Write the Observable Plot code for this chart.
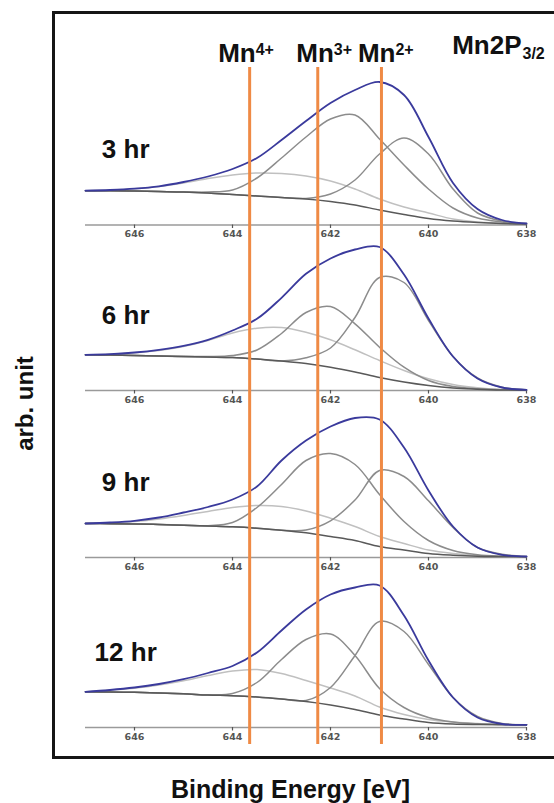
<!DOCTYPE html>
<html>
<head>
<meta charset="utf-8">
<script src="https://cdn.jsdelivr.net/npm/d3@7"></script>
<script src="https://cdn.jsdelivr.net/npm/@observablehq/plot@0.6"></script>
<style>
  html, body { margin: 0; padding: 0; background: #fff; }
  #chart { width: 554px; height: 803px; overflow: hidden; }
</style>
</head>
<body>
<div id="chart"></div>
<script>
// ---------------- DATA ----------------
// Binding energy grid (eV), read at every 0.5 eV
const energies = [647, 646.5, 646, 645.5, 645, 644.5, 644, 643.5, 643, 642.5, 642, 641.5, 641, 640.5, 640, 639.5, 639, 638.5, 638];
const panelLabels = ["3 hr", "6 hr", "9 hr", "12 hr"];
const tickValues = [646, 644, 642, 640, 638];

// Mn 2p3/2 components (arb. units; components drawn on top of background)
// 3 hr
const bg_3h  = [34.3, 34.2, 34.0, 33.5, 33.0, 32.0, 30.5, 29.0, 27.5, 26.0, 23.5, 20.0, 15.0, 10.5, 6.5, 4.0, 2.5, 1.5, 1.0];
const mn4_3h = [34.3, 35.0, 36.3, 38.5, 42.0, 46.5, 50.0, 52.0, 51.5, 49.0, 44.0, 36.0, 26.0, 18.0, 12.0, 6.0, 3.0, 1.8, 1.0];
const mn3_3h = [34.3, 34.2, 34.0, 33.5, 33.0, 33.0, 35.0, 47.0, 67.0, 88.0, 106.0, 110.0, 86.0, 60.0, 36.0, 17.0, 7.0, 3.0, 1.0];
const mn2_3h = [34.3, 34.2, 34.0, 33.5, 33.0, 32.0, 30.5, 29.0, 27.5, 26.5, 31.0, 45.0, 71.0, 87.0, 71.0, 36.0, 12.0, 4.0, 1.5];
const env_3h = [34.3, 35.0, 36.3, 38.7, 43.0, 48.5, 56.0, 67.0, 85.0, 104.0, 122.0, 135.0, 143.0, 130.0, 88.0, 42.0, 16.0, 5.0, 1.5];
// 6 hr
const bg_6h  = [35.7, 35.5, 35.0, 34.5, 34.0, 33.5, 33.0, 31.5, 29.5, 27.0, 23.3, 18.5, 13.0, 8.5, 5.0, 2.5, 1.3, 0.5, 0.3];
const mn4_6h = [35.7, 36.3, 37.7, 40.0, 44.0, 50.0, 57.5, 62.3, 63.0, 58.3, 50.7, 40.7, 30.0, 20.0, 11.7, 6.0, 2.7, 1.0, 0.3];
const mn3_6h = [35.7, 35.5, 35.0, 34.5, 34.0, 34.0, 35.0, 40.5, 57.0, 78.0, 84.0, 66.7, 43.3, 23.3, 10.0, 4.0, 1.7, 0.7, 0.3];
const mn2_6h = [35.7, 35.5, 35.0, 34.5, 34.0, 33.5, 33.0, 31.5, 29.5, 32.7, 42.5, 73.0, 113.0, 108.0, 70.0, 34.0, 12.5, 3.3, 0.7];
const env_6h = [35.7, 36.3, 38.0, 40.7, 44.7, 50.7, 60.0, 71.7, 92.7, 116.7, 132.0, 141.0, 143.5, 116.0, 72.0, 34.0, 12.0, 3.0, 0.7];
// 9 hr
const bg_9h  = [34.0, 33.8, 33.5, 33.0, 32.3, 31.5, 30.7, 29.3, 27.3, 24.7, 21.0, 17.0, 11.0, 7.5, 4.0, 2.3, 1.3, 1.0, 0.7];
const mn4_9h = [34.0, 34.5, 36.0, 38.5, 42.0, 46.0, 50.0, 52.0, 51.0, 46.5, 39.3, 31.0, 21.0, 14.0, 7.5, 4.0, 2.0, 1.2, 0.7];
const mn3_9h = [34.0, 33.8, 33.5, 33.0, 32.3, 31.8, 35.0, 50.0, 73.0, 97.0, 104.0, 93.0, 63.0, 36.0, 17.0, 7.0, 2.7, 1.2, 0.7];
const mn2_9h = [34.0, 33.8, 33.5, 33.0, 32.3, 31.5, 30.7, 29.3, 27.3, 27.5, 36.7, 57.5, 87.0, 81.0, 56.7, 30.0, 10.0, 3.3, 1.0];
const env_9h = [34.0, 35.0, 36.7, 40.0, 45.0, 50.5, 58.0, 71.0, 97.0, 117.0, 131.0, 139.5, 138.0, 110.0, 67.0, 31.0, 10.0, 2.7, 1.0];
// 12 hr
const bg_12h  = [35.7, 35.5, 35.2, 34.5, 33.7, 32.5, 31.8, 30.5, 28.5, 26.0, 22.5, 18.0, 12.5, 8.5, 5.0, 3.5, 3.0, 2.8, 2.7];
const mn4_12h = [35.7, 37.5, 39.3, 42.5, 46.7, 52.0, 56.5, 58.0, 54.0, 47.0, 39.5, 31.5, 20.5, 13.0, 8.0, 5.5, 4.0, 3.2, 2.7];
const mn3_12h = [35.7, 35.5, 35.2, 34.5, 33.7, 32.8, 34.0, 45.0, 68.0, 88.0, 93.5, 72.0, 39.0, 20.0, 10.0, 5.5, 3.7, 3.0, 2.7];
const mn2_12h = [35.7, 35.5, 35.2, 34.5, 33.7, 32.5, 31.8, 30.5, 28.5, 27.0, 40.0, 72.0, 106.0, 96.0, 63.0, 30.0, 11.0, 4.0, 2.7];
const env_12h = [35.7, 37.5, 40.0, 43.5, 48.3, 54.5, 61.5, 75.0, 97.0, 118.0, 133.0, 140.0, 142.0, 112.0, 67.0, 30.0, 10.0, 3.5, 2.7];

// Oxidation-state reference energies (eV)
const ionEnergies = [643.65, 642.26, 640.96];
const ionNames = ["Mn", "Mn", "Mn"];
const ionCharges = ["4+", "3+", "2+"];

// ---------------- LAYOUT / STYLE ----------------
const panelSeries = [
  {bg: bg_3h,  mn4: mn4_3h,  mn3: mn3_3h,  mn2: mn2_3h,  env: env_3h},
  {bg: bg_6h,  mn4: mn4_6h,  mn3: mn3_6h,  mn2: mn2_6h,  env: env_6h},
  {bg: bg_9h,  mn4: mn4_9h,  mn3: mn3_9h,  mn2: mn2_9h,  env: env_9h},
  {bg: bg_12h, mn4: mn4_12h, mn3: mn3_12h, mn2: mn2_12h, env: env_12h}
];
const panelBase = [502.5, 337, 170, 0];   // vertical stacking offset of each spectrum
const ionDx = [-31.5, -21.5, -23.5];
const font = "Liberation Sans, Arial, Helvetica, sans-serif";
const styles = {
  mn4: {stroke: "#c0c0c0", strokeWidth: 1.5},
  mn3: {stroke: "#8c8c8c", strokeWidth: 1.5},
  mn2: {stroke: "#8c8c8c", strokeWidth: 1.5},
  bg:  {stroke: "#595959", strokeWidth: 1.5},
  env: {stroke: "#3a3a9c", strokeWidth: 1.8}
};
const order = ["mn4", "mn3", "mn2", "bg", "env"];

const rows = [];
panelSeries.forEach((p, pi) => {
  order.forEach(t => {
    p[t].forEach((v, i) => rows.push({panel: pi, type: t, E: energies[i], y: panelBase[pi] + v}));
  });
});
const tickRows = [];
panelBase.forEach((b, pi) => tickValues.forEach(E => tickRows.push({panel: pi, E, base: b})));

const txt = {fontWeight: "bold", fontFamily: font, fill: "#111", lineAnchor: "middle"};

const marks = [
  Plot.frame({stroke: "#151515", strokeWidth: 3}),
  // per-panel x axes
  Plot.ruleY(panelBase, {y: d => d, x1: 647, x2: 638, stroke: "#9a9a9a", strokeWidth: 1.3}),
  Plot.ruleX(tickRows, {x: "E", y1: "base", y2: d => d.base - 3.5, stroke: "#555", strokeWidth: 1.2}),
  Plot.text(tickRows, {x: "E", y: "base", dy: 9, text: d => String(d.E), fontSize: 9.5,
    fontFamily: "DejaVu Sans, sans-serif", fontWeight: "bold", fill: "#555"}),
  // spectra
  ...order.map(t => Plot.line(rows.filter(r => r.type === t), {
    x: "E", y: "y", z: "panel", curve: "catmull-rom", ...styles[t]
  })),
  // reference lines
  Plot.ruleX(ionEnergies, {x: d => d, y1: -17, y2: 660, stroke: "#ef8a45", strokeWidth: 3}),
  // panel labels
  Plot.text(panelLabels, {x: 646.18, y: (d, i) => panelBase[i] + 75, text: d => d, textAnchor: "middle",
    fontSize: 26, ...txt}),
  // ion labels
  ...ionEnergies.flatMap((E, i) => [
    Plot.text([ionNames[i]], {x: [E], text: d => d, frameAnchor: "top", dx: ionDx[i], dy: 41.4,
      textAnchor: "start", fontSize: 26, ...txt}),
    Plot.text([ionCharges[i]], {x: [E], text: d => d, frameAnchor: "top", dx: ionDx[i] + 37.5, dy: 37.4,
      textAnchor: "start", fontSize: 16, ...txt})
  ]),
  // title
  Plot.text(["Mn2P"], {frameAnchor: "top-left", dx: 398.7, dy: 33, text: d => d, textAnchor: "start",
    fontSize: 26, ...txt}),
  Plot.text(["3/2"], {frameAnchor: "top-left", dx: 469, dy: 40.9, text: d => d, textAnchor: "start",
    fontSize: 16, ...txt}),
  // axis titles
  Plot.text(["arb. unit"], {frameAnchor: "top-left", dx: -28, dy: 391, rotate: -90, text: d => d,
    textAnchor: "middle", fontSize: 24, ...txt}),
  Plot.text(["Binding Energy [eV]"], {frameAnchor: "bottom-left", dx: 237, dy: 32, text: d => d,
    textAnchor: "middle", fontSize: 25, ...txt})
];

const chart = Plot.plot({
  width: 554,
  height: 803,
  marginLeft: 53,
  marginTop: 12,
  marginRight: -5,
  marginBottom: 46,
  x: {domain: [647, 638], range: [85, 526], axis: null},
  y: {domain: [0, 727], range: [727, 0], axis: null},
  style: {background: "#fff", overflow: "visible"},
  marks
});
document.getElementById("chart").appendChild(chart);
</script>
</body>
</html>
